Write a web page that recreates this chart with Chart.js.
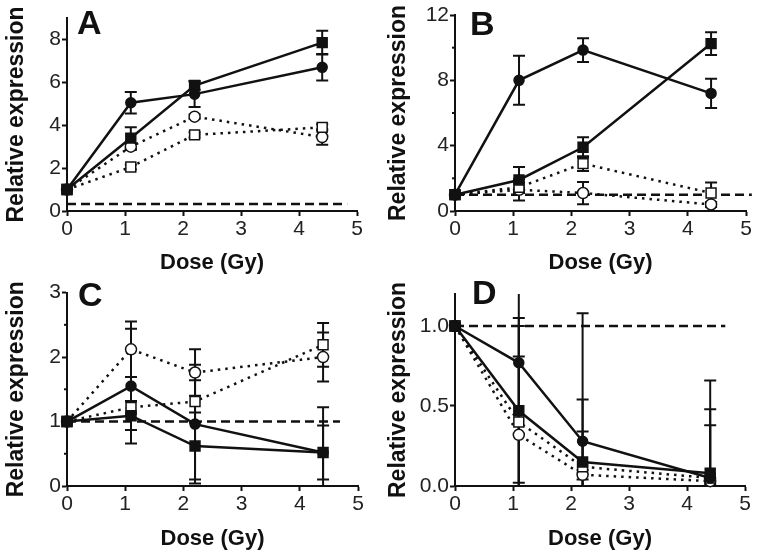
<!DOCTYPE html>
<html>
    <head>
        <title>Relative expression vs dose</title>
        <meta charset="UTF-8">
        <script src="https://cdn.jsdelivr.net/npm/chart.js@4.4.0/dist/chart.umd.min.js"></script>
        <style>
            body { margin: 0; background: white; }
            .panel { position: absolute; width: 382px; height: 279px; }
        </style>
    </head>
    <body>
        <div class="panel" style="left:0;top:0"><canvas id="panel-a" width="382" height="279"></canvas></div>
        <div class="panel" style="left:382px;top:0"><canvas id="panel-b" width="382" height="279"></canvas></div>
        <div class="panel" style="left:0;top:279px"><canvas id="panel-c" width="382" height="279"></canvas></div>
        <div class="panel" style="left:382px;top:279px"><canvas id="panel-d" width="382" height="279"></canvas></div>

        <script>
            // doses (Gy)
            var dose = [0, 1.1, 2.2, 4.4];

            // panel A
            var aCircleFilled = [1, 5.05, 5.45, 6.7];
            var aCircleFilledErr = [0, 0.5, 0.6, 0.62];
            var aSquareFilled = [1, 3.4, 5.85, 7.85];
            var aSquareFilledErr = [0, 0.5, 0.2, 0.55];
            var aCircleOpen = [1, 3.0, 4.4, 3.45];
            var aCircleOpenErr = [0, 0.15, 0.1, 0.36];
            var aSquareOpen = [1, 2.05, 3.55, 3.9];
            var aSquareOpenErr = [0, 0.12, 0.12, 0.15];
            var aBaseline = 0.33;
            var aBaselineEnd = 4.83;
            var aYTicks = [0, 2, 4, 6, 8];

            // panel B
            var bCircleFilled = [1, 8.0, 9.85, 7.2];
            var bCircleFilledErr = [0, 1.5, 0.72, 0.9];
            var bSquareFilled = [1, 1.9, 3.9, 10.25];
            var bSquareFilledErr = [0, 0.8, 0.62, 0.7];
            var bCircleOpen = [1, 1.3, 1.1, 0.4];
            var bCircleOpenErr = [0, 0.65, 0.68, 0.15];
            var bSquareOpen = [1, 1.45, 2.9, 1.1];
            var bSquareOpenErr = [0, 0.3, 0.45, 0.65];
            var bBaseline = 1.0;
            var bBaselineEnd = 5.1;
            var bYTicks = [0, 4, 8, 12];

            // panel C
            var cCircleFilled = [1, 1.55, 0.96, 0.52];
            var cCircleFilledErr = [0, 0.89, 0.92, 0.7];
            var cSquareFilled = [1, 1.09, 0.62, 0.52];
            var cSquareFilledErr = [0, 0.22, 0.52, 0.42];
            var cCircleOpen = [1, 2.12, 1.76, 2.0];
            var cCircleOpenErr = [0, 0.43, 0.36, 0.38];
            var cSquareOpen = [1, 1.22, 1.31, 2.19];
            var cSquareOpenErr = [0, 0.1, 0.33, 0.34];
            var cBaseline = 1.0;
            var cBaselineEnd = 4.69;
            var cYTicks = [0, 1, 2, 3];

            // panel D
            var dCircleFilled = [1, 0.77, 0.28, 0.05];
            var dCircleFilledErr = [0, 0.75, 0.8, 0.61];
            var dSquareFilled = [1, 0.47, 0.15, 0.08];
            var dSquareFilledErr = [0, 0.58, 0.39, 0.4];
            var dCircleOpen = [1, 0.32, 0.07, 0.03];
            var dCircleOpenErr = [0, 0.49, 0.03, 0.02];
            var dSquareOpen = [1, 0.4, 0.12, 0.05];
            var dSquareOpenErr = [0, 0.6, 0.22, 0.33];
            var dBaseline = 1.0;
            var dBaselineEnd = 4.66;
            var dYTicks = [0, 0.5, 1.0];

            var xTicks = [0, 1, 2, 3, 4, 5];
            var FONT = "'Liberation Sans', Arial, sans-serif";

            function pts(ys) {
                return dose.map(function (x, i) { return {x: x, y: ys[i]}; });
            }

            // error bars, drawn under the lines
            var errorBars = {
                id: 'errorBars',
                beforeDatasetsDraw: function (chart) {
                    var ctx = chart.ctx, xs = chart.scales.x, ys = chart.scales.y;
                    var area = chart.chartArea;
                    ctx.save();
                    ctx.beginPath();
                    ctx.rect(area.left - 10, area.top, area.right - area.left + 20, area.bottom - area.top);
                    ctx.clip();
                    ctx.strokeStyle = '#111';
                    ctx.lineWidth = 2;
                    chart.data.datasets.forEach(function (ds) {
                        if (!ds.errors) return;
                        ds.data.forEach(function (p, i) {
                            var e = ds.errors[i];
                            if (!e) return;
                            var px = xs.getPixelForValue(p.x);
                            var top = ys.getPixelForValue(p.y + e);
                            var bot = ys.getPixelForValue(p.y - e);
                            ctx.beginPath();
                            ctx.moveTo(px, top); ctx.lineTo(px, bot);
                            ctx.moveTo(px - 6, top); ctx.lineTo(px + 6, top);
                            ctx.moveTo(px - 6, bot); ctx.lineTo(px + 6, bot);
                            ctx.stroke();
                        });
                    });
                    ctx.restore();
                }
            };

            // panel letter and short minor ticks
            var panelExtras = {
                id: 'panelExtras',
                afterDraw: function (chart, args, opts) {
                    var ctx = chart.ctx, area = chart.chartArea, ys = chart.scales.y;
                    ctx.save();
                    ctx.fillStyle = '#111';
                    ctx.font = 'bold 34px ' + FONT;
                    ctx.textBaseline = 'alphabetic';
                    ctx.fillText(opts.letter, area.left + opts.dx, area.top + opts.dy);
                    ctx.strokeStyle = '#111';
                    ctx.lineWidth = 2;
                    (opts.minor || []).forEach(function (v) {
                        var py = ys.getPixelForValue(v);
                        ctx.beginPath();
                        ctx.moveTo(area.left, py);
                        ctx.lineTo(area.left - 3, py);
                        ctx.stroke();
                    });
                    ctx.restore();
                }
            };

            function makePanel(id, s, box) {
                var W = 382, H = 279;
                var solid = {borderColor: '#111', borderWidth: 2.5, pointBorderColor: '#111', pointBorderWidth: 1.5, clip: false, tension: 0};
                var dotted = Object.assign({}, solid, {borderDash: [2.5, 5]});
                // first dataset ends up on top
                var datasets = [
                    Object.assign({}, solid, {label: 'filled square', data: pts(s.squareFilled), errors: s.squareFilledErr,
                        pointStyle: 'rect', pointRadius: 7, pointBackgroundColor: '#111'}),
                    Object.assign({}, solid, {label: 'filled circle', data: pts(s.circleFilled), errors: s.circleFilledErr,
                        pointStyle: 'circle', pointRadius: 5, pointBackgroundColor: '#111'}),
                    Object.assign({}, dotted, {label: 'open square', data: pts(s.squareOpen), errors: s.squareOpenErr,
                        pointStyle: 'rect', pointRadius: 7, pointBackgroundColor: 'white'}),
                    Object.assign({}, dotted, {label: 'open circle', data: pts(s.circleOpen), errors: s.circleOpenErr,
                        pointStyle: 'circle', pointRadius: 5.5, pointBackgroundColor: 'white'}),
                    {label: 'baseline', data: [{x: 0, y: s.baseline}, {x: s.baselineEnd, y: s.baseline}],
                        borderColor: '#111', borderWidth: 2.5, borderDash: [9, 5], pointRadius: 0, clip: false}
                ];
                var yt = s.yTicks;
                return new Chart(document.getElementById(id), {
                    type: 'line',
                    data: {datasets: datasets},
                    options: {
                        responsive: false,
                        animation: false,
                        devicePixelRatio: 1,
                        layout: {padding: {left: 0, right: W - box.right, top: box.top, bottom: 0}},
                        plugins: {
                            legend: {display: false},
                            tooltip: {enabled: false},
                            panelExtras: {letter: box.letter, dx: box.dx, dy: box.dy, minor: box.minor}
                        },
                        scales: {
                            x: {
                                type: 'linear', min: 0, max: 5,
                                afterFit: function (sc) { sc.height = H - box.bottom; },
                                afterBuildTicks: function (sc) { sc.ticks = xTicks.map(function (v) { return {value: v}; }); },
                                grid: {drawOnChartArea: false, tickLength: 5, tickColor: '#111', tickWidth: 2},
                                border: {color: '#111', width: 2},
                                ticks: {color: '#222', font: {family: FONT, size: 21}, padding: 1, maxRotation: 0},
                                title: {display: true, text: 'Dose (Gy)', color: '#111',
                                    font: {family: FONT, size: 22, weight: 'bold'}, padding: {top: 0, bottom: box.titleGap}}
                            },
                            y: {
                                type: 'linear', min: 0, max: s.yMax,
                                afterFit: function (sc) { sc.width = box.left; },
                                afterBuildTicks: function (sc) { sc.ticks = yt.map(function (v) { return {value: v}; }); },
                                grid: {drawOnChartArea: false, tickLength: 5, tickColor: '#111', tickWidth: 2},
                                border: {color: '#111', width: 2},
                                ticks: {color: '#222', font: {family: FONT, size: 21}, padding: 1,
                                    callback: function (v) { return s.decimals ? v.toFixed(s.decimals) : String(v); }},
                                title: {display: true, text: 'Relative expression', color: '#111',
                                    font: {family: FONT, size: 23, weight: 'bold'}, padding: {top: 3, bottom: 0}}
                            }
                        }
                    },
                    plugins: [errorBars, panelExtras]
                });
            }

            makePanel('panel-a', {
                circleFilled: aCircleFilled, circleFilledErr: aCircleFilledErr,
                squareFilled: aSquareFilled, squareFilledErr: aSquareFilledErr,
                circleOpen: aCircleOpen, circleOpenErr: aCircleOpenErr,
                squareOpen: aSquareOpen, squareOpenErr: aSquareOpenErr,
                baseline: aBaseline, baselineEnd: aBaselineEnd, yTicks: aYTicks, yMax: 9
            }, {left: 67, right: 357, top: 18, bottom: 211, letter: 'A', dx: 10, dy: 16, titleGap: 3});

            makePanel('panel-b', {
                circleFilled: bCircleFilled, circleFilledErr: bCircleFilledErr,
                squareFilled: bSquareFilled, squareFilledErr: bSquareFilledErr,
                circleOpen: bCircleOpen, circleOpenErr: bCircleOpenErr,
                squareOpen: bSquareOpen, squareOpenErr: bSquareOpenErr,
                baseline: bBaseline, baselineEnd: bBaselineEnd, yTicks: bYTicks, yMax: 12
            }, {left: 73, right: 364, top: 15, bottom: 211, letter: 'B', dx: 15, dy: 20, minor: [2, 6, 10], titleGap: 3});

            makePanel('panel-c', {
                circleFilled: cCircleFilled, circleFilledErr: cCircleFilledErr,
                squareFilled: cSquareFilled, squareFilledErr: cSquareFilledErr,
                circleOpen: cCircleOpen, circleOpenErr: cCircleOpenErr,
                squareOpen: cSquareOpen, squareOpenErr: cSquareOpenErr,
                baseline: cBaseline, baselineEnd: cBaselineEnd, yTicks: cYTicks, yMax: 3
            }, {left: 67, right: 358, top: 12, bottom: 207, letter: 'C', dx: 11, dy: 13, minor: [0.5, 1.5, 2.5], titleGap: 6});

            makePanel('panel-d', {
                circleFilled: dCircleFilled, circleFilledErr: dCircleFilledErr,
                squareFilled: dSquareFilled, squareFilledErr: dSquareFilledErr,
                circleOpen: dCircleOpen, circleOpenErr: dCircleOpenErr,
                squareOpen: dSquareOpen, squareOpenErr: dSquareOpenErr,
                baseline: dBaseline, baselineEnd: dBaselineEnd, yTicks: dYTicks, yMax: 1.2, decimals: 1
            }, {left: 73, right: 363, top: 15, bottom: 207, letter: 'D', dx: 17, dy: 10, titleGap: 6});
        </script>
    </body>
</html>
